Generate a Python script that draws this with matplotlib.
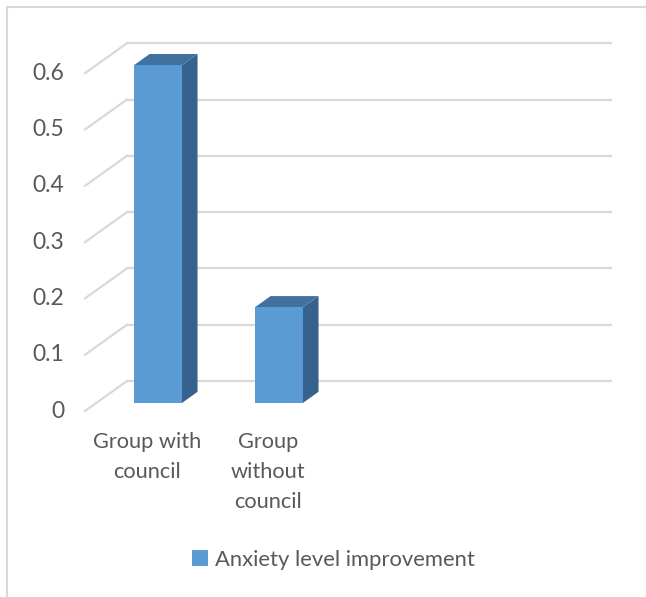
import matplotlib.pyplot as plt
from matplotlib.patches import Polygon, Patch
from matplotlib.lines import Line2D

plt.rcParams['font.family'] = ['Lato', 'DejaVu Sans']

categories = ['Group with\ncouncil', 'Group\nwithout\ncouncil']
values = [0.6, 0.17]
ticks = [0, 0.1, 0.2, 0.3, 0.4, 0.5, 0.6]
series_name = 'Anxiety level improvement'

text_color = '#595959'
grid_color = '#d9d9d9'
front_color = '#5b9bd5'
top_color = '#41719f'
side_color = '#37628d'

# oblique "3D" look: depth 0 = back wall, depth 1 = front edge of floor
DX = 42 / 121
DY = 30 / 563
A = 188.7
W, H = 646, 597


def proj(x, d, v):
    return (x - d * DX, v - d * DY)


fig = plt.figure(figsize=(W / 100, H / 100), dpi=100)
ax = fig.add_axes([0, 0, 1, 1])
ax.set_xlim((0 - A) / 121, (W - A) / 121)
ax.set_ylim((381 - H) / 563, 381 / 563)
ax.axis('off')

x_left = (127 - A) / 121
x_right = (611 - A) / 121

for t in ticks:
    ax.plot([x_left, x_right], [t, t], color=grid_color, lw=1.6, zorder=1)
    fx, fy = proj(x_left, 1, t)
    ax.plot([x_left, fx], [t, fy], color=grid_color, lw=1.6, zorder=1)
    ax.text(fx - 0.17, fy, f'{t:g}', ha='right', va='center',
            color=text_color, fontsize=16.5)

hw = 0.198
d_front, d_back = 0.73, 0.36
for i, v in enumerate(values):
    front = [proj(i - hw, d_front, 0), proj(i + hw, d_front, 0),
             proj(i + hw, d_front, v), proj(i - hw, d_front, v)]
    side = [proj(i + hw, d_front, 0), proj(i + hw, d_back, 0),
            proj(i + hw, d_back, v), proj(i + hw, d_front, v)]
    top = [proj(i - hw, d_front, v), proj(i + hw, d_front, v),
           proj(i + hw, d_back, v), proj(i - hw, d_back, v)]
    ax.add_patch(Polygon(side, closed=True, fc=side_color, ec='none', zorder=3))
    ax.add_patch(Polygon(top, closed=True, fc=top_color, ec='none', zorder=3))
    ax.add_patch(Polygon(front, closed=True, fc=front_color, ec='none', zorder=4))

for i, lab in enumerate(categories):
    lx, ly = proj(i, 1, 0)
    ax.text(lx, ly - 0.038, lab, ha='center', va='top', color=text_color,
            fontsize=15.7, linespacing=1.62)

ax.legend(handles=[Patch(fc=front_color, ec='none', label=series_name)],
          loc='center', bbox_to_anchor=(0.516, 0.062), frameon=False,
          fontsize=15.8, labelcolor=text_color, handlelength=0.75,
          handleheight=0.75, handletextpad=0.3)

# chart area border (only left and top edges visible)
fig.add_artist(Line2D([7 / W, 7 / W], [0, 1 - 7 / H], color=grid_color, lw=1.5))
fig.add_artist(Line2D([7 / W, 1], [1 - 7 / H, 1 - 7 / H], color=grid_color, lw=1.5))

fig.savefig('out.png', dpi=100)
